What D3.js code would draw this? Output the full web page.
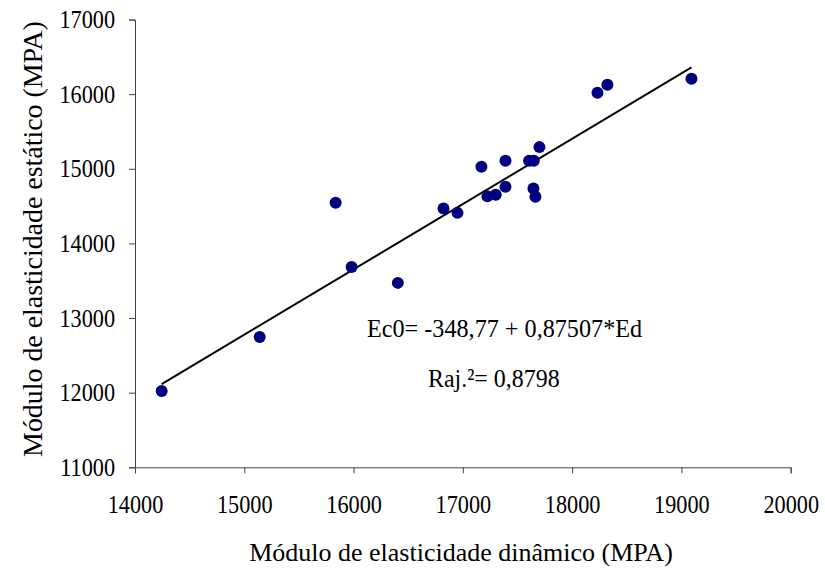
<!DOCTYPE html>
<html>
<head>
<meta charset="utf-8">
<script src="https://cdn.jsdelivr.net/npm/d3@7/dist/d3.min.js"></script>
<style>
  html, body { margin: 0; padding: 0; background: #fff; }
  svg { display: block; font-family: "Liberation Serif", "Times New Roman", serif; }
</style>
</head>
<body>
<svg id="chart" width="825" height="568"></svg>
<script>
// Data
const dynamicModulus = [14244, 15141, 15836, 15982, 16405, 16823, 16951, 17170, 17225, 17301,
                        17390, 17390, 17606, 17649, 17646, 17664, 17701, 18232, 18323, 19092];
const staticModulus  = [12023, 12747, 14544, 13685, 13471, 14468, 14409, 15026, 14633, 14651,
                        14758, 15107, 15107, 15107, 14737, 14624, 15290, 16019, 16126, 16206];
const xTicks = [14000, 15000, 16000, 17000, 18000, 19000, 20000];
const yTicks = [11000, 12000, 13000, 14000, 15000, 16000, 17000];
const intercept = -348.77;
const slope = 0.87507;
const equationText = "Ec0= -348,77 + 0,87507*Ed";
const r2Text = "Raj.²= 0,8798";
const xTitle = "Módulo de elasticidade dinâmico (MPA)";
const yTitle = "Módulo de elasticidade estático (MPA)";

const svg = d3.select("#chart");
const x = d3.scaleLinear().domain([14000, 20000]).range([135, 790.7]);
const y = d3.scaleLinear().domain([11000, 17000]).range([467.3, 19.5]);

// condense text horizontally (reference text looks vertically stretched)
function condense(sel, factor) {
  sel.each(function () {
    const w = this.getComputedTextLength();
    d3.select(this).attr("textLength", w * factor).attr("lengthAdjust", "spacingAndGlyphs");
  });
}

const axisColor = "#444";
const xAxis = d3.axisBottom(x).tickValues(xTicks).tickSize(6).tickSizeOuter(6).tickPadding(22).tickFormat(d3.format("d"));
const yAxis = d3.axisLeft(y).tickValues(yTicks).tickSize(6).tickSizeOuter(6).tickPadding(14).tickFormat(d3.format("d"));

const gx = svg.append("g").attr("transform", `translate(0,${y(11000)})`).call(xAxis);
const gy = svg.append("g").attr("transform", `translate(${x(14000)},0)`).call(yAxis);
[gx, gy].forEach(g => {
  g.attr("font-family", null).attr("font-size", null);
  g.selectAll("path, line").attr("stroke", axisColor).attr("stroke-width", 1);
  g.selectAll("text").attr("fill", "#000").style("font-size", "25px")
    .style("font-family", '"Liberation Serif", serif');
  condense(g.selectAll("text"), 0.89);
});

// Regression line spanning data range
const xmin = d3.min(dynamicModulus), xmax = d3.max(dynamicModulus);
svg.append("line")
  .attr("x1", x(xmin)).attr("y1", y(intercept + slope * xmin))
  .attr("x2", x(xmax)).attr("y2", y(intercept + slope * xmax))
  .attr("stroke", "#000").attr("stroke-width", 2);

// Points
svg.append("g").selectAll("circle")
  .data(dynamicModulus.map((d, i) => [d, staticModulus[i]]))
  .join("circle")
  .attr("cx", d => x(d[0])).attr("cy", d => y(d[1]))
  .attr("r", 6).attr("fill", "#000080");

// Annotations
const eq = svg.append("text").attr("x", 367).attr("y", 337)
  .style("font-size", "26px").text(equationText);
condense(eq, 0.93);
const r2 = svg.append("text").attr("x", 428).attr("y", 386.5)
  .style("font-size", "26px").text(r2Text);
condense(r2, 0.92);

// Axis titles
svg.append("text").attr("x", 461).attr("y", 561).attr("text-anchor", "middle")
  .style("font-size", "26px").text(xTitle);
svg.append("text").attr("transform", "translate(42,239) rotate(-90)").attr("text-anchor", "middle")
  .style("font-size", "27.9px").text(yTitle);
</script>
</body>
</html>
